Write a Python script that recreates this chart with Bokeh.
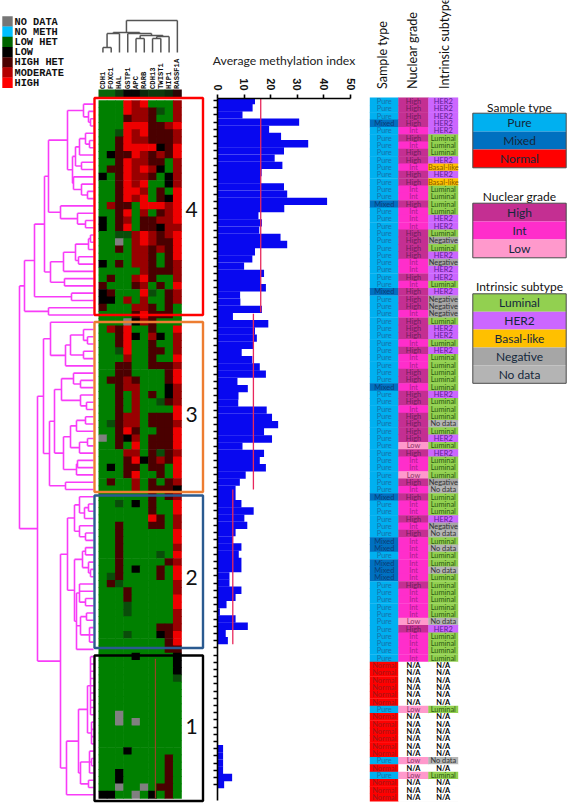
import math
from bokeh.plotting import figure
from bokeh.layouts import row as layout_row, column as layout_col
from bokeh.models import ColumnDataSource, Range1d, LinearAxis, FixedTicker
from bokeh.core.properties import value
from bokeh.embed import file_html
from bokeh.resources import INLINE

# ---------- data ----------
genes = ["CDH1", "FOXC1", "HAL", "GSTP1", "APC", "RARB", "CDH13", "TWIST1", "HIP1", "RASSF1A"]
legend_states = ["NO DATA", "NO METH", "LOW HET", "LOW", "HIGH HET", "MODERATE", "HIGH"]
legend_state_colors = ["#767676", "#00bfff", "#006400", "#000000", "#4a0000", "#b40000", "#ff0000"]

heat_colors = {"g": "#008000", "D": "#0a4d0a", "k": "#000000", "d": "#4a0000",
               "m": "#990000", "r": "#ee0000", "x": "#808080"}
heat_rows = [
    "gggrmrgggm", "gggrmmdDgm", "gggdmmdggm", "gggrrrddmr", "ggDrmrdddm", "ggdrmmdddm",
    "ggdrrrrkdr", "gkddrmdmdr", "ggdrmmddgm", "gddrmrmkgm", "kgdrmmdgkm", "ggdrmrggkm",
    "ggdrrmgdgr", "ggdrmrgdkr", "gmddgrrrmr", "ggdrgmgdmr", "kgdmgddmmr", "kgdrgddkmm",
    "ggDDmrmdmr", "ggxgmrmddr", "ggdgmmdmdr", "ggggmmdgdr", "kgdgmmdgdm", "gggggmdddm",
    "gdggmrdggm", "dgggdmgdgr", "kdgggrDgdm", "kkgmgmggdm", "dgggmmdgdg", "ggggdrdddg",
    "gggxkmdggg", "gmdrggdggr", "ggdrkgmkgm", "ggdrggdggm", "ggDrggddgm", "gggmggdggr",
    "ggddggdddm", "ggddggggdr", "gddmdgggdr", "ggdmmgggkm", "ggdgmgdgkm", "ggdgmggDdm",
    "ggdgmggggr", "ggdmmgdddr", "gDdmmgdddm", "ggdrdggddr", "xgdkmgdddr", "ggdgrgdddr",
    "gggmmgdDdm", "gggdrkdmdr", "gkgddgddgr", "gggdrggdgr", "gdggmgdgdm", "ggggmgdddk",
    "ggggggdgdm", "ggDgkgdggr", "ggggggdggr", "ggggggrdgm", "ggdgggddgm", "ggdggggggr",
    "ggdggggggr", "ggdggggggm", "ggdggggDgr", "ggdgggggdm", "ggdgkggdgr", "gDdggggdgr",
    "gdDggggggm", "gggdgggggm", "gggdgggggr", "gggDgggggr", "gggDgggggm", "gggggggggm",
    "gggggggddm", "gggDgggkdr", "ggggggggdr", "ggggggggdd", "ggggkggggk", "gggggggggk",
    "gggggggggk", "gggggggggD", "gggggggggg", "gggggggggg", "gggggggggg", "gggggggggg",
    "ggxggggggg", "ggxgxggggg", "gggggggggg", "gggggggggg", "gggggggggg", "gggkgggggg",
    "ggggggggdg", "ggggggggdg", "ggkgggggdg", "ggkgggggdg", "ggxggxgddg", "kkggxgkgdg",
]
gene_strip = ["#0a660a", "#0a660a", "#0c3a0c", "#050505", "#050505", "#0a2a0a", "#0c3a0c", "#0c3a0c", "#0a2a0a", "#2a0505"]
cluster_names = ["4", "3", "2", "1"]
cluster_colors = ["#ff0000", "#ed7d31", "#2a5a90", "#000000"]

# dendrogram of samples: [height, child, child, ...]; 0 is a sample
sample_tree = [74,
    [69,
        [59,
            [49,
                [45,
                    [26,
                        [10, 0, [5, 0, [3, 0, 0]]],
                        [21,
                            [18, [14, [8, 0, [4, 0, 0]], 0], [12, 0, 0]],
                            [20, 0, [12, 0, [6, 0, 0]]]]],
                    [33, 0, [16, 0, [8, 0, 0]]]],
                [43,
                    [30, [18, [5, [3, 0, 0], 0], [15, 0, 0]], 0],
                    [29, 0, 0]]],
            [22, 0, 0]],
        [45, 0, 0]],
    [56,
        [50,
            [43, 0, [28, [23, [10, 0, [6, 0, 0]], [10, 0, 0]], 0]],
            [44,
                [39,
                    [32, [20, 0, [13, 0, 0]], [13, 0, [7, 0, 0]]],
                    [30,
                        [23, [17, [8, 0, 0], 0], [14, [6, 0, 0], 0]],
                        [17, [16, 0, 0], 0]]],
                [28, 0, 0]]],
        [33,
            [26,
                [19, [14, 0, [9, [5, 0, 0], 0]], [14, 0, [8, 0, 0]]],
                [19,
                    [11, [8, 0, 0], [5, 0, [3, 0, 0]]],
                    [17, [14, 0, 0, [8, 0, 0]], [13, [7, 0, 0], [4, 0, 0, 0]], 0]]],
            [27,
                [15,
                    [6, [3, 0, 0, 0, 0, 0, 0, 0, 0, 0], [2, 0, 0, 0, 0]],
                    [13, [4, 0, [2, 0, 0], 0], [5, 0, 0]]],
                0]]]]
gene_tree = [32, [20, [19, [5, 0, 0], 0], [19, 0, [17, [14, 0, 0], [16, [14, 0, 0], 0]]]], 0]

methylation = [14.1, 13.2, 9.4, 30.7, 19.4, 23.9, 34.1, 25.0, 21.5, 24.4, 16.6, 16.2, 25.0, 26.2,
               41.2, 25.1, 15.4, 16.7, 15.7, 23.7, 26.2, 14.1, 13.1, 10.0, 17.5, 16.2, 18.2, 8.5,
               8.6, 16.7, 5.8, 19.1, 14.1, 14.8, 13.5, 9.1, 13.1, 15.9, 18.2, 7.5, 11.4, 7.9, 7.8,
               18.5, 20.5, 22.8, 17.5, 20.5, 9.4, 17.5, 15.9, 18.2, 10.6, 8.4, 6.8, 6.8, 9.0, 13.6,
               10.1, 11.2, 6.8, 5.8, 9.0, 8.0, 9.0, 9.0, 4.5, 4.5, 9.0, 6.8, 3.4, 0.9, 6.8, 11.4,
               3.1, 3.9, 0, 0, 0, 0, 0, 0, 0, 0, 0, 0, 0, 0, 0, 0, 2.1, 2.1, 2.1, 2.1, 5.5, 2.5]
mean_values = [16.25, 13.5, 5.75]
mean_first = [-0.4, 29.6, 54.0]
mean_last = [29.4, 54.0, 75.5]
meth_ticks = [0, 10, 20, 30, 40, 50]

P, M, N = "Pure", "Mixed", "Normal"
H, I, L, NA = "High", "Int", "Low", "N/A"
LU, HE, BA, NE, ND = "Luminal", "HER2", "Basal-like", "Negative", "No data"
sample_type = [P, P, P, M, P, P, P, P, P, P, P, P, P, P, M, P, P, P, P, P, P, P, P, P,
               P, P, M, P, P, P, P, P, P, P, P, P, P, P, P, M, P, P, P, P, P, P, P, P,
               P, P, P, P, P, P, M, P, P, P, P, P, M, M, P, M, M, M, P, P, P, P, P, P,
               P, P, P, P, P, N, N, N, N, N, N, P, N, N, N, N, N, N, P, N, P, N, N, N]
nuclear_grade = [H, H, H, H, I, H, I, H, H, I, H, H, I, I, H, I, I, I, H, H, H, H, I, I,
                 H, I, H, H, H, I, H, H, H, I, H, I, I, H, H, I, H, H, I, H, H, H, H, L,
                 H, I, I, L, H, I, H, I, I, H, I, H, I, I, I, I, I, I, H, I, I, I, I, L,
                 H, I, I, I, I, NA, NA, NA, NA, NA, NA, L, NA, NA, NA, NA, NA, NA, L, NA, L, NA, NA, NA]
subtype = [HE, HE, HE, HE, HE, LU, LU, LU, HE, BA, HE, BA, LU, LU, LU, LU, HE, HE, LU, NE, LU, HE, NE, HE,
           HE, LU, HE, NE, NE, NE, LU, HE, HE, LU, HE, LU, LU, LU, LU, LU, HE, LU, LU, LU, ND, LU, HE, LU,
           HE, LU, LU, LU, NE, ND, LU, LU, LU, HE, NE, ND, LU, ND, LU, LU, ND, LU, LU, LU, LU, LU, LU, ND,
           HE, LU, LU, LU, LU, NA, NA, NA, NA, NA, NA, LU, NA, NA, NA, NA, NA, NA, ND, NA, LU, NA, NA, NA]
table_headers = ["Sample type", "Nuclear grade", "Intrinsic subtype"]

fill = {P: "#00b0f0", M: "#0070c0", N: "#ff0000", H: "#c42f92", I: "#ff2ecb", L: "#ff99cc",
        LU: "#92d050", HE: "#cc66ff", BA: "#ffc000", NE: "#a6a6a6", ND: "#b4b4b4", NA: "#ffffff"}
ink = {P: "#1a6fa8", M: "#0a3d78", N: "#a01818", H: "#6e1d5a", I: "#a8208c", L: "#8a3468",
       LU: "#2c5a10", HE: "#5a2090", BA: "#8a5a00", NE: "#333333", ND: "#333333", NA: "#000000"}
legend_groups = [("Sample type", [P, M, N]), ("Nuclear grade", [H, I, L]), ("Intrinsic subtype", [LU, HE, BA, NE, ND])]

# ---------- page geometry (reference pixels) ----------
W, HT = 567, 803
W1, W2, W3 = 210, 150, 207
CAL = value("Lato")


def bare(width, xr, yr):
    f = figure(width=width, height=HT, x_range=xr, y_range=yr, output_backend="svg",
               toolbar_location=None, min_border=0, outline_line_color=None)
    f.axis.visible = False
    f.grid.visible = False
    f.background_fill_color = None
    f.border_fill_color = None
    return f


def tree_segments(node, leaf_pos, out):
    """returns (position, height); pushes (height0, pos0, height1, pos1) segments"""
    if node == 0:
        return next(leaf_pos), 0
    h = node[0]
    kids = [tree_segments(c, leaf_pos, out) for c in node[1:]]
    for pos, kid_h in kids:
        out.append((h, pos, kid_h, pos))
    out.append((h, kids[0][0], h, kids[-1][0]))
    return (kids[0][0] + kids[-1][0]) / 2, h


# ---------- left panel ----------
f1 = bare(W1, Range1d(0, W1), Range1d(HT, 0))
col_x0, col_w = 98.3, 8.27
row_y0, row_h = 100.0, 7.27
f1.extra_x_ranges["genes"] = Range1d((0 - col_x0) / col_w - .5, (W1 - col_x0) / col_w - .5)
f1.extra_y_ranges["rows"] = Range1d((HT - row_y0) / row_h - .5, (0 - row_y0) / row_h - .5)
f1.extra_x_ranges["dist"] = Range1d(93, 93 - W1)
f1.extra_y_ranges["gdist"] = Range1d(52 - HT, 52)

hx, hy, hc = [], [], []
for r, s in enumerate(heat_rows):
    for c, ch in enumerate(s):
        hx.append(c); hy.append(r); hc.append(heat_colors[ch])
f1.rect(x="x", y="y", width=1.07, height=1.09, fill_color="c", line_color=None,
        source=ColumnDataSource(dict(x=hx, y=hy, c=hc)), x_range_name="genes", y_range_name="rows")
# overall strip above the heatmap
f1.rect(x=list(range(10)), y=93, width=1.07, height=8, width_units="data", height_units="screen",
        fill_color=gene_strip, line_color=None, x_range_name="genes")
# thin line in the last cluster
f1.segment(x0=6.34, x1=6.34, y0=76.3, y1=95.5, line_color="#b03a2a", line_width=1,
           x_range_name="genes", y_range_name="rows")

seg = []
tree_segments(sample_tree, iter(range(96)), seg)
f1.segment(x0=[s[0] for s in seg], y0=[s[1] for s in seg], x1=[s[2] for s in seg], y1=[s[3] for s in seg],
           line_color="#f83cf8", line_width=1.6, x_range_name="dist", y_range_name="rows")

gseg = []
tree_segments(gene_tree, iter(range(10)), gseg)
f1.segment(x0=[s[1] for s in gseg], y0=[s[0] for s in gseg], x1=[s[3] for s in gseg], y1=[s[2] for s in gseg],
           line_color="#555555", line_width=1.5, x_range_name="genes", y_range_name="gdist")

f1.text(x=list(range(10)), y=[88.5] * 10, text=genes, angle=math.pi / 2, text_font=value("Liberation Mono"),
        text_font_style="bold", text_font_size="7.2px", text_baseline="middle", text_align="left",
        text_color="#111111", x_range_name="genes")

# state legend
ly = [16 + 10.2 * (i + .5) for i in range(7)]
f1.rect(x=[7] * 7, y=ly, width=10.4, height=10.5, fill_color=legend_state_colors, line_color=None)
f1.text(x=[14] * 7, y=ly, text=legend_states, text_font=value("Liberation Mono"), text_font_style="bold",
        text_font_size="10.3px", text_baseline="middle", text_color="#111111")

# cluster frames
edge_top = [97.5, 321.5, 495, 655]
edge_bot = [314.5, 491.5, 647.5, 800.5]
digit_shift = {"4": 3, "3": 7, "2": 6, "1": -2}
for name, col, t, b in zip(cluster_names, cluster_colors, edge_top, edge_bot):
    f1.quad(left=94, right=202.5, top=t, bottom=b, fill_color=None, line_color=col, line_width=2.4)
    f1.text(x=[191], y=[(t + b) / 2 + digit_shift[name]], text=[name], text_font=CAL,
            text_font_size="21px", text_align="center", text_baseline="middle", text_color="#111111")

# ---------- bar panel ----------
f2 = figure(width=W2, height=HT, x_range=Range1d(0, 50), y_range=Range1d(97.2, -0.278),
            output_backend="svg", toolbar_location=None, min_border_left=7, min_border_right=10,
            min_border_top=98, min_border_bottom=3, outline_line_color=None,
            x_axis_location=None, y_axis_location=None, title="Average methylation index")
f2.grid.visible = False
f2.title.text_font = "Lato"
f2.title.text_font_size = "12.2px"
f2.title.text_font_style = "normal"
f2.title.text_color = "#222222"
f2.title.align = "center"
f2.title.offset = 5
f2.title.standoff = 16
f2.hbar(y=list(range(96)), left=0, right=methylation, height=1.02, fill_color="#0808f0", line_color=None)
f2.segment(x0=mean_values, x1=mean_values, y0=mean_first, y1=mean_last, line_color="#e8285c", line_width=1.3)
top_axis = LinearAxis(ticker=FixedTicker(ticks=meth_ticks), major_tick_out=4, major_tick_in=0,
                      minor_tick_line_color=None, axis_line_width=1.6, major_tick_line_width=1.6,
                      major_label_orientation=-math.pi / 2, major_label_text_font="Liberation Sans",
                      major_label_text_font_style="bold", major_label_text_font_size="11px",
                      major_label_text_color="#111111", major_label_standoff=4)
f2.add_layout(top_axis, "above")
left_axis = LinearAxis(ticker=FixedTicker(ticks=list(range(96))), major_tick_out=4, major_tick_in=0,
                       minor_tick_line_color=None, axis_line_width=1.6, major_tick_line_width=1.6,
                       major_label_overrides={i: "" for i in range(96)}, major_label_standoff=0)
f2.add_layout(left_axis, "left")

# ---------- table panel ----------
f3 = bare(W3, Range1d(360, 360 + W3), Range1d(HT, 0))
tb_y0, tb_h = 97.3, 7.327
tb_x = [369.5, 398, 428]
tb_w = [28.5, 30, 29.5]
f3.extra_y_ranges["rows"] = Range1d((HT - tb_y0) / tb_h - .5, (0 - tb_y0) / tb_h - .5)
for j, colvals in enumerate([sample_type, nuclear_grade, subtype]):
    src = ColumnDataSource(dict(y=list(range(96)), t=colvals,
                                f=[fill[v] for v in colvals], k=[ink[v] for v in colvals],
                                b=["bold" if v == NA else "normal" for v in colvals]))
    xc = tb_x[j] + tb_w[j] / 2
    f3.rect(x=xc, y="y", width=tb_w[j] + 0.4, height=1.06, fill_color="f", line_color=None, source=src, y_range_name="rows")
    f3.text(x=xc, y="y", text="t", text_color="k", text_font=value("Lato"), text_font_size="7.4px",
            text_font_style="b", text_align="center", text_baseline="middle", source=src, y_range_name="rows")
f3.segment(x0=[398] * 97, x1=[457.5] * 97, y0=[i - .5 for i in range(97)], y1=[i - .5 for i in range(97)],
           line_color="#e8e8e8", line_width=0.5, level="underlay", y_range_name="rows")
f3.text(x=[382, 412, 444], y=[88.5] * 3, text=table_headers, angle=math.pi / 2, text_font=CAL, text_font_size="12.6px",
        text_baseline="middle", text_align="left", text_color="#111111")

box_top = [112.7, 202.7, 293.3]
row_hts = [18.2, 18.2, 17.9]
title_y = [106.7, 196, 286]
for (ttl, items), t0, rh, ty in zip(legend_groups, box_top, row_hts, title_y):
    ys = [t0 + rh * (i + .5) for i in range(len(items))]
    f3.text(x=[519], y=[ty], text=[ttl], text_font=CAL, text_font_size="12px", text_align="center",
            text_baseline="middle", text_color="#111111")
    f3.rect(x=519, y=ys, width=93.4, height=rh, fill_color=[fill[i] for i in items], line_color=None)
    f3.quad(left=472.3, right=565.7, top=t0, bottom=t0 + rh * len(items), fill_color=None,
            line_color="#4a4a4a", line_width=1)
    f3.text(x=[519] * len(items), y=ys, text=items, text_font=CAL, text_font_size="12px", text_align="center",
            text_baseline="middle", text_color=["#14283c"] * len(items))

page = layout_row(layout_col(f1, spacing=0), layout_col(f2, spacing=0), layout_col(f3, spacing=0),
                  spacing=0, margin=(0, 0, 0, 0))
open("out.html", "w").write(file_html(page, INLINE))
